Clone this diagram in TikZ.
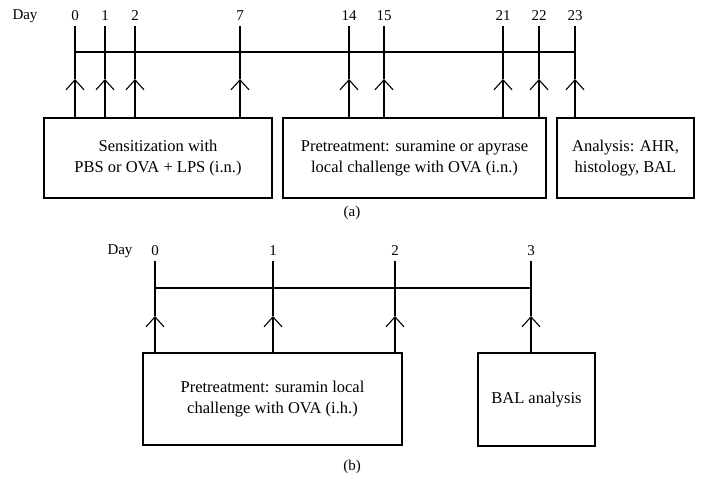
\documentclass[tikz,border=0pt]{standalone}
\usepackage{fontspec}
\setmainfont{Liberation Serif}
\usetikzlibrary{arrows.meta}

\tikzset{
  daylabel/.style={font=\fontsize{15}{18}\selectfont, inner sep=0pt},
  stagebox/.style={draw, line width=1.8pt, inner sep=0pt, outer sep=0pt,
    align=center, font=\fontsize{16.5}{21}\selectfont},
  daytick/.style={line width=2.8pt},
  timeline/.style={line width=1.8pt},
  uparrow/.style={line width=1.1pt,
    -{Straight Barb[length=10pt,width=18pt,line width=1.1pt]}},
}

\begin{document}
\begin{tikzpicture}[x=1pt,y=-1pt]
      \useasboundingbox (0,0) rectangle (705,501);

      % Panel (a): the timeline
      \node[daylabel] (daya) at (25,16) {Day};
      \draw[timeline] (75,52) -- (575,52);
      \foreach \d/\x in {0/75,1/105,2/135,7/240,14/349,15/384,21/503,22/539,23/575} {
        \node[daylabel] (a\d) at (\x,16) {\d};
        \draw[daytick] (\x,26) -- (\x,79) coordinate (ta\d);
      }

      % Panel (a): the boxes
      \node[stagebox, minimum width=228pt, minimum height=80pt] (sens) at (158,158)
        {Sensitization with\\PBS or OVA + LPS (i.n.)};
      \node[stagebox, minimum width=263pt, minimum height=80pt] (pret) at (414.5,158)
        {Pretreatment: suramine or apyrase\\local challenge with OVA (i.n.)};
      \node[stagebox, minimum width=137pt, minimum height=80pt] (anal) at (625.5,158)
        {Analysis: AHR,\\histology, BAL};

      \foreach \d in {0,1,2,7}
        \draw[uparrow] (sens.north -| ta\d) -- (ta\d);
      \foreach \d in {14,15,21,22}
        \draw[uparrow] (pret.north -| ta\d) -- (ta\d);
      \draw[uparrow] (anal.north -| ta23) -- (ta23);

      \node[daylabel] (capa) at (352,213) {(a)};

      % Panel (b): the timeline
      \node[daylabel] (dayb) at (120,251) {Day};
      \draw[timeline] (155,288) -- (531,288);
      \foreach \d/\x in {0/155,1/273,2/395,3/531} {
        \node[daylabel] (b\d) at (\x,251) {\d};
        \draw[daytick] (\x,261) -- (\x,316) coordinate (tb\d);
      }

      % Panel (b): the boxes
      \node[stagebox, minimum width=259pt, minimum height=92pt] (supre) at (272.5,399)
        {Pretreatment: suramin local\\challenge with OVA (i.h.)};
      \node[stagebox, minimum width=117pt, minimum height=93pt] (bal) at (536.5,399.5)
        {BAL analysis};

      \foreach \d in {0,1,2}
        \draw[uparrow] (supre.north -| tb\d) -- (tb\d);
      \draw[uparrow] (bal.north -| tb3) -- (tb3);

      \node[daylabel] (capb) at (352,467) {(b)};
\end{tikzpicture}
\end{document}
